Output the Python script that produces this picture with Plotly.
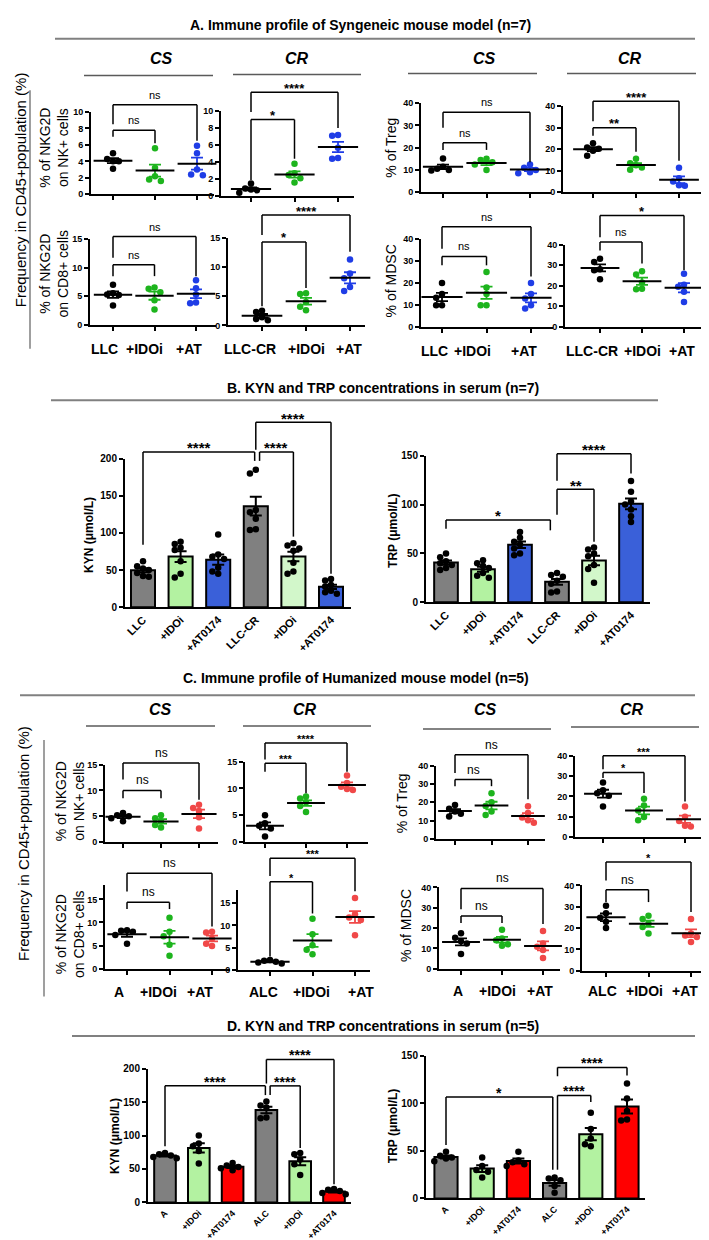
import numpy as np
import plotly.graph_objects as go

W, H = 709, 1240
FONT = "Arial, Liberation Sans, Helvetica, sans-serif"

# ---------------- DATA ----------------
# Section A: syngeneic mouse model, dot plots (3 groups each)
A_CS_LABELS = ["LLC", "+IDOi", "+AT"]
A_CR_LABELS = ["LLC-CR", "+IDOi", "+AT"]
A_NK_CS = [[5.0, 4.3, 4.0, 4.0, 3.1], [5.6, 3.2, 2.2, 1.6, 1.8], [5.9, 5.0, 3.0, 2.3, 2.4]]
A_NK_CR = [[1.5, 0.9, 0.8, 0.7, 0.4], [3.8, 2.7, 2.5, 2.1, 1.6], [7.2, 7.1, 5.7, 4.5, 4.4]]
A_CD8_CS = [[7.0, 5.5, 5.3, 5.2, 3.4], [6.5, 6.3, 5.7, 4.3, 2.7], [7.8, 6.4, 5.3, 3.9, 3.8]]
A_CD8_CR = [[2.5, 2.3, 1.4, 1.1, 0.9], [5.5, 5.4, 4.0, 3.2, 2.6], [11.3, 8.9, 8.1, 6.6, 5.9]]
A_TREG_CS = [[15.2, 11.5, 10.5, 10.0, 9.8], [15.0, 14.5, 13.5, 12.5, 10.0], [12.5, 11.0, 10.0, 9.0, 8.5]]
A_TREG_CR = [[22.8, 20.8, 20.2, 19.3, 17.0], [15.5, 13.5, 12.5, 11.5, 10.5], [11.4, 6.5, 5.0, 3.0, 3.2]]
A_MDSC_CS = [[20.0, 15.0, 13.3, 10.0, 10.0], [25.0, 18.0, 15.0, 10.0, 10.0], [20.0, 15.0, 13.0, 10.0, 8.5]]
A_MDSC_CR = [[33.2, 31.6, 28.0, 27.5, 23.2], [27.0, 25.5, 21.5, 18.5, 18.2], [25.8, 20.5, 19.5, 17.0, 12.0]]

# Section B: KYN / TRP in serum (n=7), bars
B_LABELS = ["LLC", "+IDOi", "+AT0174", "LLC-CR", "+IDOi", "+AT0174"]
B_KYN = [[62, 55, 52, 50, 46, 42, 41], [88, 85, 80, 77, 62, 45, 40], [98, 71, 68, 65, 53, 48, 45],
         [185, 180, 131, 128, 119, 105, 104], [86, 83, 79, 76, 60, 48, 45], [38, 36, 30, 28, 22, 20, 18]]
B_TRP = [[50, 46, 42, 40, 38, 35, 33], [43, 40, 37, 35, 30, 27, 25], [72, 66, 62, 59, 55, 50, 48],
         [30, 28, 26, 22, 19, 11, 10], [56, 54, 50, 47, 38, 34, 20], [124, 113, 103, 100, 95, 88, 82]]

# Section C: humanized mouse model, dot plots
C_CS_LABELS = ["A", "+IDOi", "+AT"]
C_CR_LABELS = ["ALC", "+IDOi", "+AT"]
C_NK_CS = [[5.6, 5.2, 5.0, 4.6, 4.0], [5.2, 4.6, 4.0, 3.3, 2.8], [7.2, 6.6, 6.0, 4.8, 2.6]]
C_NK_CR = [[5.0, 3.5, 3.0, 2.5, 1.0], [8.5, 8.1, 7.4, 6.7, 5.6], [12.4, 11.0, 10.3, 9.9, 9.7]]
C_CD8_CS = [[8.3, 8.2, 8.0, 7.3, 5.4], [11.0, 8.0, 7.0, 5.2, 2.8], [8.0, 7.8, 6.5, 5.4, 4.9]]
C_CD8_CR = [[2.2, 2.0, 1.8, 1.6, 1.4], [11.5, 8.0, 5.5, 4.5, 3.5], [16.2, 12.5, 11.8, 11.2, 7.8]]
C_TREG_CS = [[18.5, 16.5, 15.0, 13.8, 12.2], [25.0, 20.0, 18.0, 15.0, 13.0], [17.8, 14.2, 11.7, 10.2, 8.8]]
C_TREG_CR = [[26.8, 23.0, 21.5, 20.3, 15.0], [18.8, 15.5, 13.0, 9.8, 8.2], [15.0, 10.0, 7.8, 5.5, 5.2]]
C_MDSC_CS = [[17.5, 15.2, 13.5, 12.4, 7.2], [19.2, 14.8, 14.0, 12.0, 11.3], [18.5, 12.4, 10.8, 9.2, 5.2]]
C_MDSC_CR = [[30.5, 27.0, 24.8, 23.0, 20.0], [25.8, 24.3, 22.0, 20.5, 17.5], [24.3, 17.5, 16.5, 15.8, 13.5]]

# Section D: KYN / TRP in serum (n=5), bars
D_LABELS = ["A", "+IDOi", "+AT0174", "ALC", "+IDOi", "+AT0174"]
D_KYN = [[74, 72, 70, 68, 66], [100, 88, 84, 77, 58], [59, 55, 53, 51, 48],
         [151, 145, 142, 127, 126], [74, 72, 64, 57, 41], [20, 19, 17, 14, 12]]
D_TRP = [[49, 45, 43, 42, 39], [43, 34, 30, 28, 22], [49, 40, 38, 36, 34],
         [22, 21, 19, 13, 6], [90, 73, 63, 57, 55], [121, 105, 92, 83, 82]]

# ---------------- STYLES ----------------
A_DOT_COLORS = ["#000000", "#1DB41D", "#1F3DE6"]
C_DOT_COLORS = ["#000000", "#1DB41D", "#F04848"]
B_BAR_COLORS = ["#808080", "#B3F2A1", "#3A60D9", "#808080", "#D2F7CA", "#3A60D9"]
D_BAR_COLORS = ["#808080", "#B3F2A1", "#FF0000", "#808080", "#B3F2A1", "#FF0000"]

fig = go.Figure()
LAYOUT = {}
SHAPES = []
ANNS = []
_count = [0]


def fx(px):
    return px / W


def fy(py):
    return 1 - py / H


def make_axes(sp, n, kind, labels):
    _count[0] += 1
    k = _count[0]
    sfx = '' if k == 1 else str(k)
    unit = (sp['cN'] - sp['c0']) / (n - 1)
    xmin = -(sp['c0'] - sp['yax']) / unit
    xmax = (n - 1) + (sp['xr'] - sp['cN']) / unit
    (v1, q1), (v2, q2) = sp['p1'], sp['p2']
    s = (q1 - q2) / (v2 - v1)
    p0 = q1 + v1 * s
    ptop = p0 - sp['ytop'] * s
    xa = dict(domain=[fx(sp['yax']), fx(sp['xr'])], range=[xmin, xmax], anchor='y' + sfx,
              showline=True, linecolor='black', linewidth=2, showgrid=False, zeroline=False,
              tickvals=list(range(n)), fixedrange=True)
    if kind == 'dot':
        xa.update(ticks='outside', ticklen=4, tickwidth=1.5, tickcolor='black', showticklabels=False)
    else:
        xa.update(ticks='', ticktext=labels, tickangle=-45,
                  tickfont=dict(family=FONT, size=sp.get('xfs', 10), color='black', weight='bold'))
    ya = dict(domain=[fy(p0), fy(ptop)], range=[0, sp['ytop']], anchor='x' + sfx,
              showline=True, linecolor='black', linewidth=2, showgrid=False, zeroline=False,
              tickvals=sp['yticks'], ticks='outside', ticklen=4, tickwidth=1.5, tickcolor='black',
              tickfont=dict(family=FONT, size=9 if kind == 'dot' else 10, color='black', weight='bold'),
              fixedrange=True)
    LAYOUT['xaxis' + sfx] = xa
    LAYOUT['yaxis' + sfx] = ya
    return dict(xn='x' + sfx, yn='y' + sfx, unit=unit, s=s,
                xd=lambda x: (x - xmin) / (xmax - xmin), yd=lambda v: v / sp['ytop'])


def swarm(vals, unit_px, s_px, d):
    order = sorted(range(len(vals)), key=lambda t: -vals[t])
    placed, offs = [], [0.0] * len(vals)
    for t in order:
        y = vals[t] * s_px
        x = 0.0
        for kk in (0, -1, 1, -2, 2, -3, 3, -4, 4):
            x = kk * d * 0.9
            if all((x - a) ** 2 + (y - b) ** 2 >= (0.9 * d) ** 2 for a, b in placed):
                break
        placed.append((x, y))
        offs[t] = x / unit_px
    return offs


def add_brackets(ax, brs, ast_size, ns_size):
    for br in brs:
        i, j, yt, yl, yr, lab = br[:6]
        dl = br[6] if len(br) > 6 else 0.0
        dr = br[7] if len(br) > 7 else 0.0
        xa, xb = ax['xd'](i + dl), ax['xd'](j + dr)
        ytd = ax['yd'](yt)
        segs = [(xa, ax['yd'](yl), xa, ytd), (xa, ytd, xb, ytd), (xb, ytd, xb, ax['yd'](yr))]
        for (x0, y0, x1, y1) in segs:
            SHAPES.append(dict(type='line', xref=ax['xn'] + ' domain', yref=ax['yn'] + ' domain',
                               x0=x0, y0=y0, x1=x1, y1=y1, line=dict(color='black', width=1.5)))
        if lab == 'ns':
            ANNS.append(dict(text='ns', xref=ax['xn'] + ' domain', yref=ax['yn'] + ' domain',
                             x=(xa + xb) / 2, y=ytd, yanchor='middle', xanchor='center', yshift=10,
                             showarrow=False, font=dict(family=FONT, size=ns_size, color='black')))
        else:
            ANNS.append(dict(text='<b>' + lab + '</b>', xref=ax['xn'] + ' domain', yref=ax['yn'] + ' domain',
                             x=(xa + xb) / 2, y=ytd, yanchor='middle', xanchor='center', yshift=4,
                             showarrow=False, font=dict(family=FONT, size=ast_size, color='black')))


def ylabel(text, pos, size=14):
    ANNS.append(dict(text=text, xref='paper', yref='paper', x=fx(pos[0]), y=fy(pos[1]),
                     xanchor='center', yanchor='middle', textangle=-90, showarrow=False,
                     font=dict(family=FONT, size=size, color='black')))


def xlabels(ax, labels, ypx, dxs):
    # category labels under a dot panel, placed at each category through the x axis
    for i, lab in enumerate(labels):
        ANNS.append(dict(text='<b>' + lab + '</b>', xref=ax['xn'], yref='paper', x=i, y=fy(ypx),
                         xanchor='center', yanchor='middle', xshift=dxs[i], showarrow=False,
                         font=dict(family=FONT, size=14, color='black')))


def dot_panel(sp, groups, colors, labels, ast, ns):
    ax = make_axes(sp, 3, 'dot', labels)
    for i, vals in enumerate(groups):
        offs = swarm(vals, ax['unit'], ax['s'], 6.5)
        fig.add_trace(go.Scatter(x=[i + o for o in offs], y=vals, mode='markers',
                                 marker=dict(color=colors[i], size=6.5), xaxis=ax['xn'], yaxis=ax['yn'],
                                 cliponaxis=False, hoverinfo='skip', showlegend=False))
        m = float(np.mean(vals))
        se = float(np.std(vals, ddof=1) / np.sqrt(len(vals)))
        fig.add_trace(go.Scatter(x=[i], y=[m], mode='markers',
                                 marker=dict(symbol='line-ew', size=0.66 * ax['unit'], color='black',
                                             line=dict(color='black', width=2)),
                                 error_y=dict(type='data', array=[se], color=colors[i], thickness=1.8, width=6),
                                 xaxis=ax['xn'], yaxis=ax['yn'], cliponaxis=False, hoverinfo='skip',
                                 showlegend=False))
    add_brackets(ax, sp['br'], ast, ns)
    if sp.get('ylab'):
        ylabel(sp['ylab'], sp['ylab_pos'])
    if labels:
        xlabels(ax, labels, sp['xl_y'], sp['xl_dx'])


def bar_panel(sp, groups, colors, labels, ast):
    ax = make_axes(sp, 6, 'bar', labels)
    means = [float(np.mean(g)) for g in groups]
    sems = [float(np.std(g, ddof=1) / np.sqrt(len(g))) for g in groups]
    fig.add_trace(go.Bar(x=list(range(6)), y=means, width=0.64,
                         marker=dict(color=colors, line=dict(color='black', width=2)),
                         error_y=dict(type='data', array=sems, color='black', thickness=2, width=6),
                         xaxis=ax['xn'], yaxis=ax['yn'], hoverinfo='skip', showlegend=False))
    for i, vals in enumerate(groups):
        offs = swarm(vals, ax['unit'], ax['s'], 6.5)
        fig.add_trace(go.Scatter(x=[i + o for o in offs], y=vals, mode='markers',
                                 marker=dict(color='black', size=6.5), xaxis=ax['xn'], yaxis=ax['yn'],
                                 cliponaxis=False, hoverinfo='skip', showlegend=False))
    add_brackets(ax, sp['br'], ast, 11)
    ylabel(sp['ylab'], sp['ylab_pos'], size=12)


T10 = [0, 2, 4, 6, 8, 10]
T15 = [0, 5, 10, 15]
T40 = [0, 10, 20, 30, 40]

# ---------------- PANELS: A ----------------
dot_panel(dict(yax=83, c0=105, cN=189, xr=206, p1=(0, 182), p2=(10, 99), ytop=10, yticks=T10,
               ylab="% of NKG2D<br>on NK+ cells", ylab_pos=(46, 135),
               br=[(0, 1, 7.8, 7.0, 6.2, 'ns'), (0, 2, 10.9, 8.5, 6.5, 'ns')]),
          A_NK_CS, A_DOT_COLORS, None, 13, 11)
dot_panel(dict(yax=213, c0=243, cN=330, xr=346, p1=(0, 184), p2=(10, 98), ytop=10, yticks=T10,
               br=[(0, 1, 9.0, 1.9, 4.4, '*'), (0, 2, 12.2, 9.9, 8.0, '****')]),
          A_NK_CR, A_DOT_COLORS, None, 13, 11)
dot_panel(dict(yax=82, c0=105, cN=188, xr=208, p1=(5, 285), p2=(15, 227), ytop=15, yticks=T15,
               ylab="% of NKG2D<br>on CD8+ cells", ylab_pos=(46, 262), xl_y=338, xl_dx=[-9, -10, -7],
               br=[(0, 1, 10.5, 8.5, 8.5, 'ns'), (0, 2, 15.4, 11.7, 8.5, 'ns')]),
          A_CD8_CS, A_DOT_COLORS, A_CS_LABELS, 13, 11)
dot_panel(dict(yax=220, c0=254, cN=342, xr=357, p1=(5, 285), p2=(15, 226), ytop=15, yticks=T15,
               xl_y=338, xl_dx=[-12, 0, -1],
               br=[(0, 1, 14.3, 3.3, 6.4, '*'), (0, 2, 18.9, 15.5, 12.6, '****')]),
          A_CD8_CR, A_DOT_COLORS, A_CR_LABELS, 13, 11)
dot_panel(dict(yax=413, c0=435, cN=522, xr=543, p1=(0, 180), p2=(40, 90), ytop=40, yticks=T40,
               ylab="% of Treg", ylab_pos=(383, 135),
               br=[(0, 1, 22.2, 19, 19, 'ns'), (0, 2, 35.9, 28.9, 13.5, 'ns')]),
          A_TREG_CS, A_DOT_COLORS, None, 13, 11)
dot_panel(dict(yax=555, c0=585, cN=671, xr=693, p1=(0, 180), p2=(40, 93), ytop=40, yticks=T40,
               br=[(0, 1, 30, 26.2, 18.8, '**'), (0, 2, 42.3, 33, 14.6, '****')]),
          A_TREG_CR, A_DOT_COLORS, None, 13, 11)
dot_panel(dict(yax=413, c0=434, cN=523, xr=545, p1=(10, 294), p2=(40, 227), ytop=40, yticks=T40,
               ylab="% of MDSC", ylab_pos=(383, 270), xl_y=340, xl_dx=[-8, -14, -7],
               br=[(0, 1, 32, 28, 28, 'ns'), (0, 2, 45.5, 35.5, 23, 'ns')]),
          A_MDSC_CS, A_DOT_COLORS, A_CS_LABELS, 13, 11)
dot_panel(dict(yax=557, c0=592, cN=676, xr=695, p1=(10, 295), p2=(40, 233), ytop=40, yticks=T40,
               xl_y=340, xl_dx=[-8, 0, -2],
               br=[(0, 1, 41.3, 37.2, 30.8, 'ns'), (0, 2, 54.3, 43.7, 27.5, '*')]),
          A_MDSC_CR, A_DOT_COLORS, A_CR_LABELS, 13, 11)

# ---------------- PANELS: B ----------------
bar_panel(dict(yax=117, c0=135, cN=323, xr=343, p1=(0, 599), p2=(200, 449), ytop=200, xfs=11,
               yticks=[0, 50, 100, 150, 200], ylab="<b>KYN (μmol/L)</b>", ylab_pos=(81, 526),
               br=[(0, 3, 209, 84, 197, '****', 0, -0.03), (3, 4, 209, 197, 95, '****', 0.1, 0),
                   (3, 5, 249, 212, 45, '****')]),
          B_KYN, B_BAR_COLORS, B_LABELS, 15)
bar_panel(dict(yax=418, c0=438, cN=623, xr=642, p1=(0, 594), p2=(150, 446), ytop=150, xfs=11,
               yticks=[0, 50, 100, 150], ylab="<b>TRP (μmol/L)</b>", ylab_pos=(385, 522),
               br=[(0, 3, 84.3, 75.3, 73.6, '*', 0, -0.18), (3, 4, 115.7, 89.5, 62, '**'),
                   (3, 5, 152, 124.4, 131.8, '****')]),
          B_TRP, B_BAR_COLORS, B_LABELS, 15)

# ---------------- PANELS: C ----------------
dot_panel(dict(yax=97, c0=115, cN=191, xr=210, p1=(0, 836), p2=(15, 758), ytop=15, yticks=T15,
               ylab="% of NKG2D<br>on NK+ cells", ylab_pos=(62, 795),
               br=[(0, 1, 10, 8.5, 8.5, 'ns'), (0, 2, 15.3, 12.1, 8.2, 'ns')]),
          C_NK_CS, C_DOT_COLORS, None, 11, 12)
dot_panel(dict(yax=237, c0=257, cN=339, xr=360, p1=(0, 836), p2=(15, 755), ytop=15, yticks=T15,
               br=[(0, 1, 14.7, 13.1, 9.1, '***'), (0, 2, 18.5, 15.4, 13.1, '****')]),
          C_NK_CR, C_DOT_COLORS, None, 11, 12)
dot_panel(dict(yax=97, c0=119, cN=204, xr=222, p1=(0, 964), p2=(15, 894), ytop=18, yticks=T15,
               ylab="% of NKG2D<br>on CD8+ cells", ylab_pos=(62, 929), xl_y=988, xl_dx=[-8, -11, -12],
               br=[(0, 1, 14.35, 12.9, 12.9, 'ns'), (0, 2, 20.65, 16.7, 9.1, 'ns')]),
          C_CD8_CS, C_DOT_COLORS, C_CS_LABELS, 11, 12)
dot_panel(dict(yax=230, c0=262, cN=347, xr=362, p1=(0, 965), p2=(15, 898), ytop=18, yticks=T15,
               xl_y=988, xl_dx=[-7, -1, 6],
               br=[(0, 1, 19.85, 3.0, 12.7, '*'), (0, 2, 25.2, 21.2, 17.7, '***')]),
          C_CD8_CR, C_DOT_COLORS, C_CR_LABELS, 11, 12)
dot_panel(dict(yax=428, c0=447, cN=520, xr=537, p1=(0, 833), p2=(40, 759), ytop=40, yticks=T40,
               ylab="% of Treg", ylab_pos=(394, 797),
               br=[(0, 1, 32.4, 28.8, 28.8, 'ns'), (0, 2, 46, 36, 21.6, 'ns')]),
          C_TREG_CS, C_DOT_COLORS, None, 11, 12)
dot_panel(dict(yax=567, c0=595, cN=677, xr=698, p1=(0, 831), p2=(40, 749), ytop=40, yticks=T40,
               br=[(0, 1, 31.8, 29, 21.6, '*'), (0, 2, 40, 33.4, 17.5, '***')]),
          C_TREG_CR, C_DOT_COLORS, None, 11, 12)
dot_panel(dict(yax=431, c0=453, cN=535, xr=552, p1=(0, 964), p2=(40, 882), ytop=40, yticks=T40,
               ylab="% of MDSC", ylab_pos=(398, 921), xl_y=987, xl_dx=[-3, -5, -3],
               br=[(0, 1, 26, 22.5, 22.5, 'ns'), (0, 2, 39.5, 29.3, 22, 'ns')]),
          C_MDSC_CS, C_DOT_COLORS, C_CS_LABELS, 11, 12)
dot_panel(dict(yax=574, c0=598, cN=683, xr=697, p1=(0, 966), p2=(40, 880), ytop=40, yticks=T40,
               xl_y=987, xl_dx=[-4, -4, -6],
               br=[(0, 1, 38, 32.2, 32.2, 'ns'), (0, 2, 51, 42.3, 27.5, '*')]),
          C_MDSC_CR, C_DOT_COLORS, C_CR_LABELS, 11, 12)

# ---------------- PANELS: D ----------------
bar_panel(dict(yax=140, c0=157, cN=326, xr=343, p1=(0, 1200), p2=(200, 1065), ytop=200, xfs=9,
               yticks=[0, 50, 100, 150, 200], ylab="<b>KYN (μmol/L)</b>", ylab_pos=(107, 1133),
               br=[(0, 3, 174.3, 84, 160.5, '****', 0, -0.03), (3, 4, 174.3, 160.5, 81.5, '****', 0.11, 0),
                   (3, 5, 213.8, 177.8, 27, '****')]),
          D_KYN, D_BAR_COLORS, D_LABELS, 14)
bar_panel(dict(yax=418, c0=438, cN=619, xr=637, p1=(0, 1196), p2=(150, 1052), ytop=150, xfs=9,
               yticks=[0, 50, 100, 150], ylab="<b>TRP (μmol/L)</b>", ylab_pos=(385, 1123),
               br=[(0, 3, 106.6, 56.3, 30.2, '*', 0, -0.05), (3, 4, 108.3, 30.2, 101.4, '****', 0.08, 0),
                   (3, 5, 137.8, 128.5, 129.2, '****', 0.08, 0)]),
          D_TRP, D_BAR_COLORS, D_LABELS, 14)


# ---------------- HEADERS / DECORATION ----------------
def text(t, x, y, size, angle=0):
    ANNS.append(dict(text=t, xref='paper', yref='paper', x=fx(x), y=fy(y), xanchor='center',
                     yanchor='middle', showarrow=False, textangle=angle,
                     font=dict(family=FONT, size=size, color='black')))


def hline(x0, x1, y, color='#7f7f7f', width=1.5):
    SHAPES.append(dict(type='line', xref='paper', yref='paper', x0=fx(x0), x1=fx(x1), y0=fy(y), y1=fy(y),
                       line=dict(color=color, width=width)))


def vline(x, y0, y1, color='#7f7f7f', width=1.5):
    SHAPES.append(dict(type='line', xref='paper', yref='paper', x0=fx(x), x1=fx(x), y0=fy(y0), y1=fy(y1),
                       line=dict(color=color, width=width)))


text("<b>A. Immune profile of Syngeneic mouse model (n=7)</b>", 352, 11, 14)
hline(47, 687, 25, '#808080', 2)
for (cx, lbl, x0, x1, yy) in [(153, 'CS', 76, 205, 62), (289, 'CR', 225, 353, 61),
                              (477, 'CS', 400, 529, 60), (622, 'CR', 559, 688, 60)]:
    text("<b><i>" + lbl + "</i></b>", cx, 45, 16)
    hline(x0, x1, yy, '#5a5a5a', 1.5)
text("Frequency in CD45+population (%)", 12, 178, 15, -90)
vline(22, 77, 338)

text("<b>B. KYN and TRP concentrations in serum (n=7)</b>", 375, 378, 14)
hline(43, 650, 390, '#808080', 2)

text("<b>C. Immune profile of Humanized mouse model (n=5)</b>", 348, 670, 14)
hline(12, 687, 688, '#808080', 2)
for (cx, lbl, x0, x1, yy) in [(152, 'CS', 78, 207, 719), (297, 'CR', 235, 363, 719),
                              (478, 'CS', 415, 543, 722), (624, 'CR', 563, 691, 720)]:
    text("<b><i>" + lbl + "</i></b>", cx, 702, 16)
    hline(x0, x1, yy, '#5a5a5a', 1.5)
text("Frequency in CD45+population (%)", 16, 838, 15, -90)
vline(36, 733, 992)

text("<b>D. KYN and TRP concentrations in serum (n=5)</b>", 375, 1022, 14)
hline(64, 687, 1032, '#808080', 2)

fig.update_layout(width=W, height=H, margin=dict(l=0, r=0, t=0, b=0), paper_bgcolor='white',
                  plot_bgcolor='white', showlegend=False, font=dict(family=FONT, color='black'),
                  shapes=SHAPES, annotations=ANNS, **LAYOUT)
fig.write_html("out.html")
